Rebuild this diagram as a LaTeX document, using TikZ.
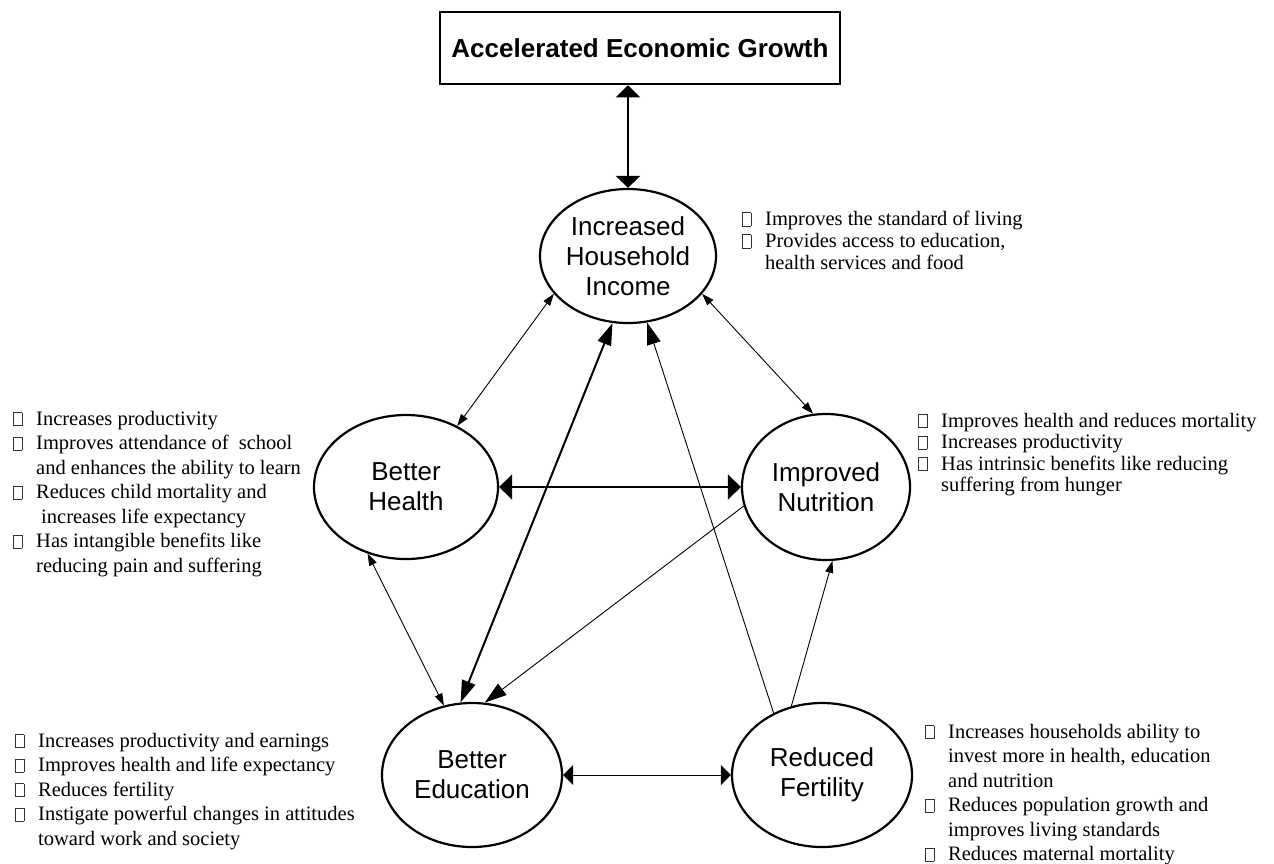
\documentclass[tikz,border=0pt]{standalone}
\usepackage{fontspec}
\setmainfont{Liberation Serif}
\setsansfont{Liberation Sans}
\usetikzlibrary{arrows.meta,shapes.geometric}
\newcommand\bx{{\color{black!80}\setlength{\fboxsep}{0pt}\setlength{\fboxrule}{0.7pt}\fbox{\rule{0pt}{12.5pt}\hspace{7.6pt}}}}
\tikzset{
  tipW/.tip={Triangle[width=24pt,length=12pt]},
  tipB/.tip={Triangle[width=14pt,length=22pt]},
  tipH/.tip={Triangle[width=25pt,length=13pt]},
  tipM/.tip={Triangle[width=20pt,length=10pt]},
  tipS/.tip={Triangle[width=8pt,length=12pt]},
  oval/.style={ellipse,draw,line width=2.2pt,inner sep=0pt,align=center,
    font=\fontsize{26}{30}\selectfont\sffamily},
  blk/.style={anchor=north west,inner sep=0pt},
  thinln/.style={line width=0.9pt},
}
\begin{document}
\begin{tikzpicture}[x=1pt,y=-1pt]
\useasboundingbox (0,0) rectangle (1274,863);

\node[draw,line width=2.5pt,minimum width=400pt,minimum height=72pt,inner sep=0pt,
  font=\fontsize{26}{30}\selectfont\sffamily\bfseries] (top) at (640,48) {Accelerated Economic Growth};

\node[oval,minimum width=176pt,minimum height=134pt] (inc) at (628,256) {Increased\\Household\\Income};
\node[oval,minimum width=184pt,minimum height=144pt] (hea) at (406,487) {Better\\Health};
\node[oval,minimum width=168pt,minimum height=146pt] (nut) at (826,487) {Improved\\Nutrition};
\node[oval,minimum width=180pt,minimum height=144pt] (edu) at (472,775) {Better\\Education};
\node[oval,minimum width=180pt,minimum height=144pt] (fer) at (822,775) {Reduced\\Fertility};

% connectors
\draw[line width=2pt,tipW-tipW] (top.south -| inc.north) -- (inc.north);
\draw[thinln,tipS-tipS] (inc.207) -- (hea.50);
\draw[thinln,tipS-tipS] (inc.333) -- (nut.100);
\draw[line width=1.3pt,tipH-tipH] (hea.east) -- (nut.west);
\draw[line width=2pt,tipB-tipB] (edu.99) -- (inc.257);
\draw[thinln,-tipB] (fer.128) -- (inc.286);
\draw[thinln,-tipB] (nut.193) -- (edu.80);
\draw[thinln,tipS-tipS] (hea.240) -- (edu.112);
\draw[thinln,tipM-tipM] (edu.east) -- (fer.west);
\draw[thinln,-tipS] (fer.114) -- (nut.275);

% text blocks
\node[blk,font=\fontsize{20.5}{22}\selectfont] (tinc) at (742,210) {\begin{tabular}{@{}l@{\hspace{14pt}}l@{}}
\bx & Improves the standard of living\\
\bx & Provides access to education,\\
 & health services and food
\end{tabular}};

\node[blk,font=\fontsize{20.5}{24.5}\selectfont] (thea) at (13,408) {\begin{tabular}{@{}l@{\hspace{14pt}}l@{}}
\bx & Increases productivity\\
\bx & Improves attendance of \ school\\
 & and enhances the ability to learn\\
\bx & Reduces child mortality and\\
 & \hspace{5pt}increases life expectancy\\
\bx & Has intangible benefits like\\
 & reducing pain and suffering
\end{tabular}};

\node[blk,font=\fontsize{20.5}{21.5}\selectfont] (tnut) at (918,412) {\begin{tabular}{@{}l@{\hspace{14pt}}l@{}}
\bx & Improves health and reduces mortality\\
\bx & Increases productivity\\
\bx & Has intrinsic benefits like reducing\\
 & suffering from hunger
\end{tabular}};

\node[blk,font=\fontsize{20.5}{24.5}\selectfont] (tedu) at (15,730) {\begin{tabular}{@{}l@{\hspace{14pt}}l@{}}
\bx & Increases productivity and earnings\\
\bx & Improves health and life expectancy\\
\bx & Reduces fertility\\
\bx & Instigate powerful changes in attitudes\\
 & toward work and society
\end{tabular}};

\node[blk,font=\fontsize{20.5}{24.5}\selectfont] (tfer) at (925,721) {\begin{tabular}{@{}l@{\hspace{14pt}}l@{}}
\bx & Increases households ability to\\
 & invest more in health, education\\
 & and nutrition\\
\bx & Reduces population growth and\\
 & improves living standards\\
\bx & Reduces maternal mortality
\end{tabular}};
\end{tikzpicture}
\end{document}
